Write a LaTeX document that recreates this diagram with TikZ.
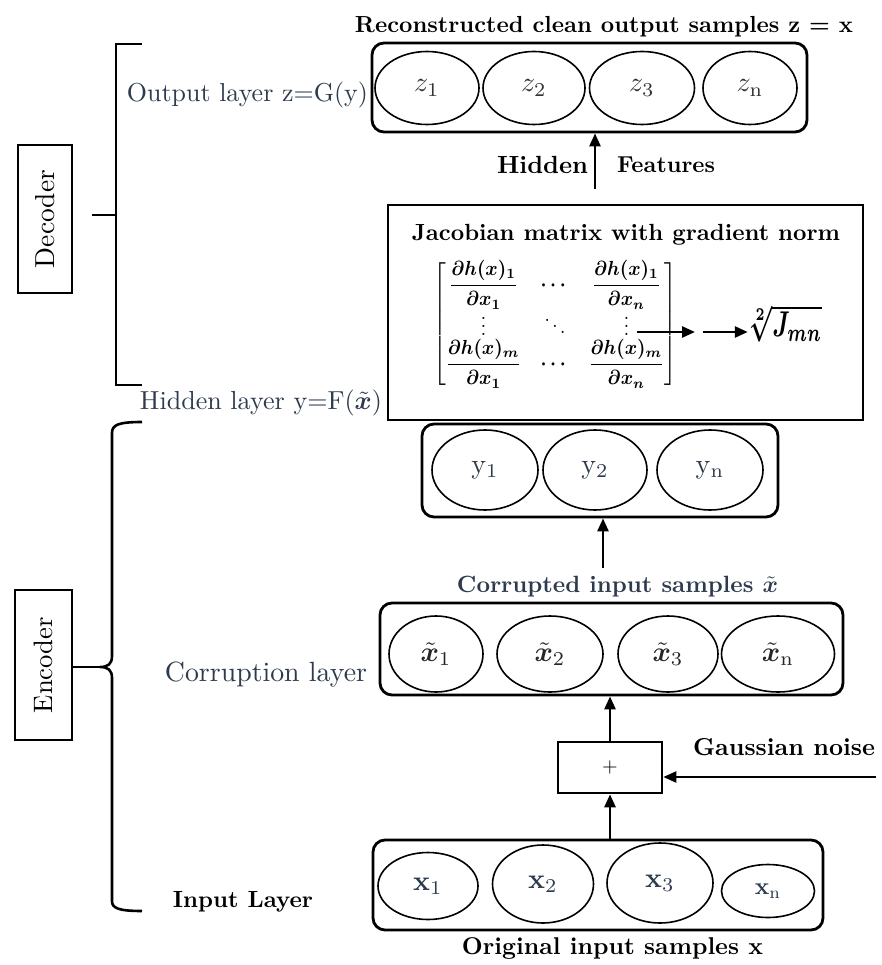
\documentclass[tikz,border=0pt]{standalone}
\usepackage{amsmath,amssymb,bm}
\usetikzlibrary{shapes.geometric,arrows.meta}
\definecolor{slate}{HTML}{2E3B4E}
\newcommand\fitto[2]{\resizebox{#1}{!}{#2}}
\newcommand\lab[1]{\scalebox{2.8}{#1}}
\begin{document}
\begin{tikzpicture}[x=1pt,y=-1pt,
  box/.style={draw, rounded corners=12pt, line width=2.8pt, inner sep=0},
  unit/.style={draw, ellipse, line width=1.6pt, inner sep=0},
  plain/.style={inner sep=0},
  arr/.style={-{Triangle[length=13pt,width=11pt]}, line width=2.6pt},
  brk/.style={line width=2.6pt}
]
\fill[white] (0,0) rectangle (881,965);
\useasboundingbox (0,0) rectangle (881,965);

% ---------- output layer ----------
\node[plain] (title) at (604,27) {\fitto{498pt}{\bfseries Reconstructed clean output samples z = x}};
\node[box, minimum width=435pt, minimum height=89pt] (outbox) at (589.5,87.5) {};
\node[unit, minimum width=104pt, minimum height=73pt, text=black!80] (z1) at (427,88) {\lab{$z_{1}$}};
\node[unit, minimum width=102pt, minimum height=73pt, text=black!80] (z2) at (534,88) {\lab{$z_{2}$}};
\node[unit, minimum width=105pt, minimum height=73pt, text=black!80] (z3) at (642,88) {\lab{$z_{3}$}};
\node[unit, minimum width=94pt, minimum height=73pt, text=black!80] (zn) at (750,88) {\lab{$z_{\mathrm{n}}$}};
\node[plain, text=slate] (outlbl) at (247.5,95) {\fitto{241pt}{Output layer z=G(y)}};

% hidden features arrow
\node[plain] (hid) at (542.5,165) {\fitto{91pt}{\bfseries Hidden}};
\node[plain] (feat) at (666,165) {\fitto{98pt}{\bfseries Features}};
\coordinate (hf) at (595,189);
\draw[arr] (hf) -- (hf |- outbox.south);

% ---------- Jacobian block ----------
\node[draw, line width=2.8pt, minimum width=475pt, minimum height=215pt, inner sep=0] (jbox) at (625.5,312.5) {};
\node[plain] (jtitle) at (626,235) {\fitto{428pt}{\bfseries Jacobian matrix with gradient norm}};
\node[plain] (jac) at (555,324) {\resizebox*{244pt}{128pt}{\boldmath$\begin{bmatrix}
  \dfrac{\partial h(x)_1}{\partial x_1} & \cdots & \dfrac{\partial h(x)_1}{\partial x_n}\\[-2pt]
  \vdots & \ddots & \vdots\\[-2pt]
  \dfrac{\partial h(x)_m}{\partial x_1} & \cdots & \dfrac{\partial h(x)_m}{\partial x_n}
\end{bmatrix}$}};
\node[plain] (root) at (785,323.5) {\resizebox*{74pt}{38pt}{\boldmath$\sqrt[2]{J_{mn}}$}};
\coordinate (m1) at (637,332);
\coordinate (m2) at (695,332);
\draw[arr] (m1) -- (m2);
\coordinate (r0) at (703,332);
\draw[arr] (r0) -- (r0 -| root.west);

% ---------- hidden layer ----------
\node[plain, text=slate] (hidlbl) at (261,403) {\fitto{242pt}{Hidden layer y=F($\tilde{\bm{x}}$)}};
\node[box, minimum width=356pt, minimum height=93pt] (ybox) at (600,470.5) {};
\node[unit, minimum width=106pt, minimum height=80pt, text=slate] (y1) at (485,470) {\lab{y$_{1}$}};
\node[unit, minimum width=104pt, minimum height=80pt, text=slate] (y2) at (595,470) {\lab{y$_{2}$}};
\node[unit, minimum width=106pt, minimum height=80pt, text=slate] (yn) at (710,470) {\lab{y$_{\mathrm{n}}$}};

\node[plain, text=slate] (corrlbl) at (617.5,587) {\fitto{321pt}{\bfseries Corrupted input samples $\tilde{\bm{x}}$}};
\coordinate (cy) at (603,568);
\draw[arr] (cy) -- (cy |- ybox.south);

% ---------- corruption layer ----------
\node[box, minimum width=463pt, minimum height=92pt] (cbox) at (611.5,649) {};
\node[unit, minimum width=94pt, minimum height=76pt, text=black!85] (c1) at (436,654) {\lab{$\tilde{\bm{x}}_{1}$}};
\node[unit, minimum width=106pt, minimum height=76pt, text=black!85] (c2) at (550,654) {\lab{$\tilde{\bm{x}}_{2}$}};
\node[unit, minimum width=100pt, minimum height=76pt, text=black!85] (c3) at (668,654) {\lab{$\tilde{\bm{x}}_{3}$}};
\node[unit, minimum width=113pt, minimum height=76pt, text=black!85] (cn) at (778,654) {\lab{$\tilde{\bm{x}}_{\mathrm{n}}$}};
\node[plain, text=slate] (clayer) at (266,675) {\fitto{202pt}{Corruption layer}};

% ---------- noise adder ----------
\node[draw, line width=2.6pt, minimum width=104pt, minimum height=51pt, inner sep=0] (plus) at (610,767.5) {\scalebox{2}{+}};
\draw[arr] (plus.north) -- (plus.north |- cbox.south);
\node[plain] (gauss) at (784,747) {\fitto{182pt}{\bfseries Gaussian noise}};
\coordinate (gn) at (876,777);
\draw[arr, line width=2.2pt] (gn) -- (gn -| plus.east);

% ---------- input layer ----------
\node[box, minimum width=450pt, minimum height=90pt] (inbox) at (598,885) {};
\node[unit, minimum width=100pt, minimum height=67pt, text=slate] (x1) at (428,886) {\lab{\textbf{x}$_{1}$}};
\node[unit, minimum width=101pt, minimum height=78pt, text=slate] (x2) at (543,884) {\lab{\textbf{x}$_{2}$}};
\node[unit, minimum width=106pt, minimum height=80pt, text=slate] (x3) at (660,883) {\lab{\textbf{x}$_{3}$}};
\node[unit, minimum width=93pt, minimum height=53pt, text=slate] (xn) at (768,891) {\scalebox{2.4}{\textbf{x}$_{\mathrm{n}}$}};
\draw[arr] (plus.south |- inbox.north) -- (plus.south);
\node[plain] (orig) at (612.5,948) {\fitto{301pt}{\bfseries Original input samples x}};
\node[plain] (inlbl) at (243,902) {\fitto{140pt}{\bfseries Input Layer}};

% ---------- decoder bracket ----------
\node[draw, line width=2.6pt, minimum width=54pt, minimum height=148pt, inner sep=0] (dec) at (45,219) {};
\node[plain, rotate=90] (dectxt) at (dec.center) {\fitto{98pt}{Decoder}};
\draw[brk] (142,44) -- (116,44) -- (116,385) -- (142,385);
\draw[brk] (92,215) -- (116,215);

% ---------- encoder brace ----------
\node[draw, line width=2.6pt, minimum width=57pt, minimum height=150pt, inner sep=0] (enc) at (43.5,665) {};
\node[plain, rotate=90] (enctxt) at (enc.center) {\fitto{96pt}{Encoder}};
\draw[brk] (142,422) .. controls (118,422) and (112,425) .. (112,433)
  -- (112,656) .. controls (112,664) and (108,667) .. (100,667)
  .. controls (108,667) and (112,670) .. (112,678)
  -- (112,901) .. controls (112,908) and (118,911) .. (142,911);
\draw[brk] (enc.east |- 0,667) -- (100,667);
\end{tikzpicture}
\end{document}
